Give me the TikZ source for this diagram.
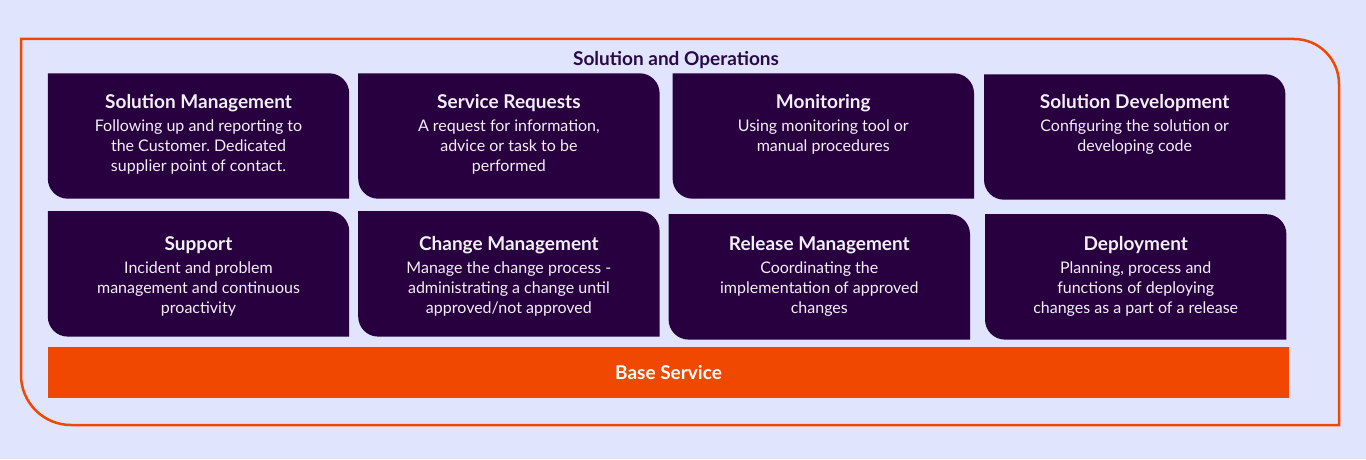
\documentclass[tikz,border=0pt]{standalone}
\usepackage{fontspec}
\setmainfont{Lato}
\usepackage{tikz}
\usetikzlibrary{positioning}
\usepackage{xcolor}

\definecolor{pagebg}{HTML}{E0E5FD}
\definecolor{tileviolet}{HTML}{28003F}
\definecolor{baseorange}{HTML}{F04800}
\definecolor{titleviolet}{HTML}{2A0A45}
\definecolor{tilewhite}{HTML}{F2F0F7}

% tile with rounded top-right and bottom-left corners
\newcommand{\tileshape}[1]{%
  \fill[tileviolet] (#1.north west) -- ([xshift=-20pt]#1.north east)
    arc[start angle=90, end angle=0, radius=20pt] -- (#1.south east)
    -- ([xshift=20pt]#1.south west)
    arc[start angle=270, end angle=180, radius=20pt] -- cycle;}
\newcommand{\tilehead}[1]{{\bfseries\fontsize{19}{20}\selectfont #1}\\[3pt]}

\frenchspacing
\begin{document}
\begin{tikzpicture}[x=1pt, y=1pt,
    tile/.style={inner sep=0pt, minimum width=301pt, minimum height=125pt},
    tiletext/.style={text=tilewhite, align=center, inner sep=0pt,
      font=\fontsize{16}{20}\selectfont}]

  \fill[pagebg] (0,0) rectangle (1366,459);
  \useasboundingbox (0,0) rectangle (1366,459);

  % outer frame
  \draw[baseorange, line width=2.5pt] (21,420) -- (1294,420)
    arc[start angle=90, end angle=0, radius=45] -- (1339,34) -- (71,34)
    arc[start angle=270, end angle=180, radius=50] -- cycle;

  \node[text=titleviolet, font=\bfseries\fontsize{19}{20}\selectfont] (title) at (676,399) {Solution and Operations};

  % tiles
  \node[tile] (sm) at (198.5,323) {};
  \node[tile, right=9pt of sm] (sr) {};
  \node[tile, right=13pt of sr] (mo) {};
  \node[tile, right=10pt of mo, yshift=-1pt] (sd) {};
  \node[tile, below=12.5pt of sm] (su) {};
  \node[tile, right=9pt of su] (cm) {};
  \node[tile, right=9pt of cm, yshift=-3pt] (rm) {};
  \node[tile, right=15pt of rm] (de) {};

  \foreach \t in {sm,sr,mo,sd,su,cm,rm,de}
    \tileshape{\t};

  \node[tiletext, below=21pt of sm.north] (smtext) {\tilehead{Solution Management}
    Following up and reporting to\\the Customer. Dedicated\\supplier point of contact.};
  \node[tiletext, below=21pt of sr.north] (srtext) {\tilehead{Service Requests}
    A request for information,\\advice or task to be\\performed};
  \node[tiletext, below=21pt of mo.north] (motext) {\tilehead{Monitoring}
    Using monitoring tool or\\manual procedures};
  \node[tiletext, below=20pt of sd.north] (sdtext) {\tilehead{Solution Development}
    Configuring the solution or\\developing code};
  \node[tiletext, below=25pt of su.north] (sutext) {\tilehead{Support}
    Incident and problem\\management and continuous\\proactivity};
  \node[tiletext, below=25pt of cm.north] (cmtext) {\tilehead{Change Management}
    Manage the change process -\\administrating a change until\\approved/not approved};
  \node[tiletext, below=22pt of rm.north] (rmtext) {\tilehead{Release Management}
    Coordinating the\\implementation of approved\\changes};
  \node[tiletext, below=22pt of de.north] (detext) {\tilehead{Deployment}
    Planning, process and\\functions of deploying\\changes as a part of a release};

  % base bar
  \node[fill=baseorange, text=white, minimum width=1241pt, minimum height=51pt, inner sep=0pt,
    font=\bfseries\fontsize{19}{20}\selectfont] (base) at (668.5,86.5) {Base Service};
\end{tikzpicture}
\end{document}
